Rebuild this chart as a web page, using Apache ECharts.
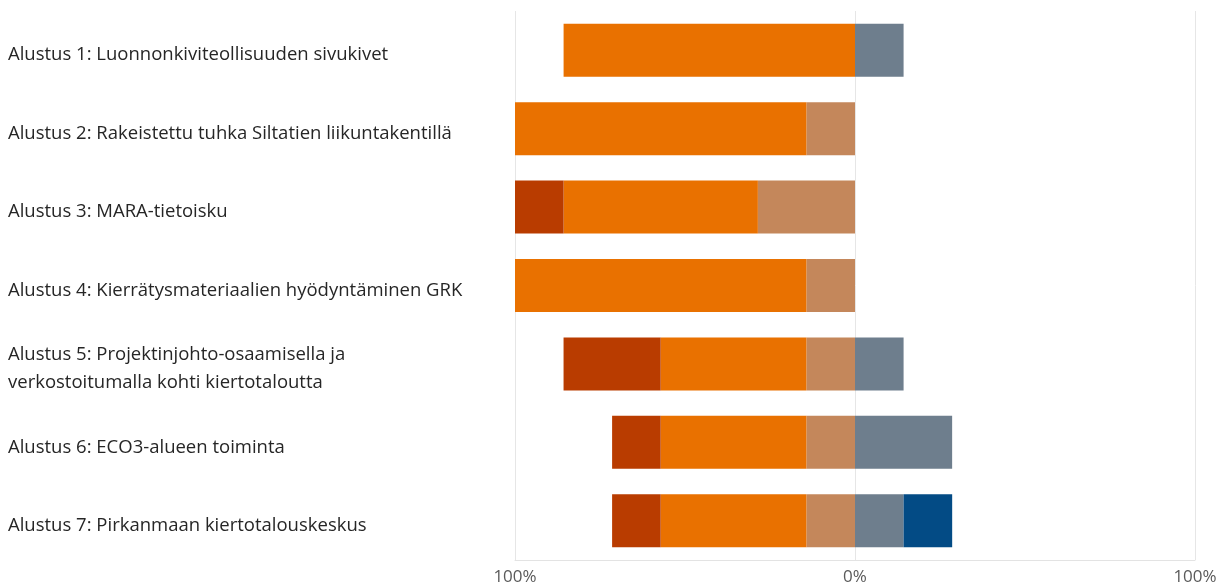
<!DOCTYPE html>
<html>
<head>
<meta charset="utf-8">
<script src="https://cdn.jsdelivr.net/npm/echarts@6/dist/echarts.min.js"></script>
<style>html,body{margin:0;padding:0;background:#fff}#c{width:1222px;height:586px}</style>
</head>
<body>
<div id="c"></div>
<script>
const categories = [
  "Alustus 1: Luonnonkiviteollisuuden sivukivet",
  "Alustus 2: Rakeistettu tuhka Siltatien liikuntakentillä",
  "Alustus 3: MARA-tietoisku",
  "Alustus 4: Kierrätysmateriaalien hyödyntäminen GRK",
  "Alustus 5: Projektinjohto-osaamisella ja\nverkostoitumalla kohti kiertotaloutta",
  "Alustus 6: ECO3-alueen toiminta",
  "Alustus 7: Pirkanmaan kiertotalouskeskus"
];
// negative side (percent), listed from zero outward
const tanVals    = [0, 14.29, 28.57, 14.29, 14.29, 14.29, 14.29];
const orangeVals = [85.71, 85.71, 57.14, 85.71, 42.86, 42.86, 42.86];
const darkVals   = [0, 0, 14.29, 0, 28.57, 14.29, 14.29];
// positive side (percent)
const grayVals   = [14.29, 0, 0, 0, 14.29, 28.57, 14.29];
const navyVals   = [0, 0, 0, 0, 0, 0, 14.29];
const xTicks = [-100, 0, 100];

const neg = a => a.map(v => -v);
function s(name, data, color) {
  return { name, type: 'bar', stack: 'total', data, barWidth: 53,
    itemStyle: { color }, emphasis: { disabled: true } };
}
const chart = echarts.init(document.getElementById('c'), null, { renderer: 'canvas' });
chart.setOption({
  animation: false,
  grid: { left: 515, right: 27, top: 11, bottom: 26 },
  xAxis: {
    type: 'value', min: xTicks[0], max: xTicks[xTicks.length - 1], interval: 100,
    axisLine: { show: true, lineStyle: { color: '#e3e3e3' } },
    axisTick: { show: false },
    splitLine: { show: true, lineStyle: { color: '#e6e6e6' } },
    axisLabel: { formatter: v => Math.abs(v) + '%', color: '#5a5a5a', fontSize: 17,
      fontFamily: 'Open Sans', margin: 9 }
  },
  yAxis: {
    type: 'category', data: categories, inverse: true,
    axisLine: { show: false }, axisTick: { show: false },
    axisLabel: {
      align: 'left', margin: 507,
      formatter: v => '{s| }\n' + v.split('\n').map(l => '{a|' + l + '}').join('\n'),
      rich: {
        s: { fontSize: 1, lineHeight: 10 },
        a: { fontSize: 18.5, lineHeight: 28, fontFamily: 'Open Sans', color: '#262626' }
      }
    }
  },
  series: [
    s('tan', neg(tanVals), '#C4875B'),
    s('orange', neg(orangeVals), '#E97100'),
    s('dark', neg(darkVals), '#B93C00'),
    s('gray', grayVals, '#6E7E8D'),
    s('navy', navyVals, '#034B85')
  ]
});
</script>
</body>
</html>
